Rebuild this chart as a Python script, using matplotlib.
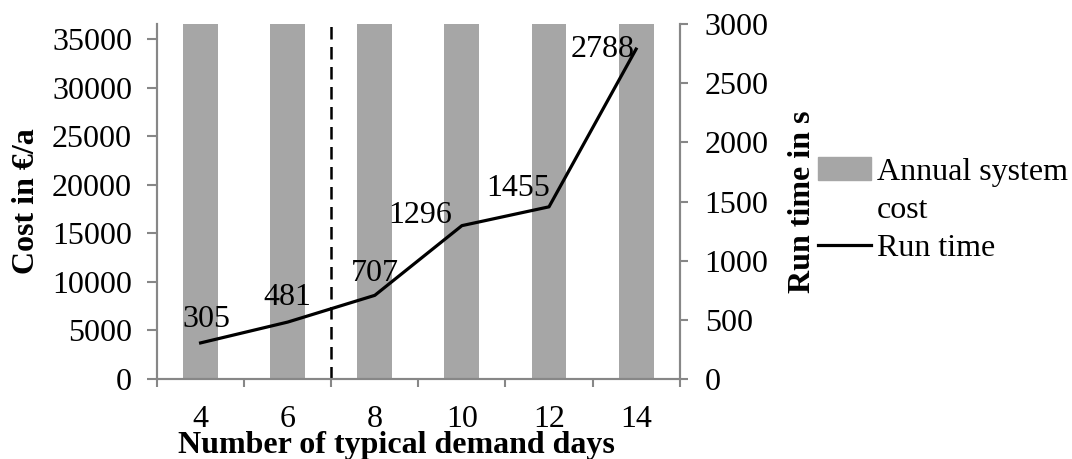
import matplotlib
matplotlib.use("Agg")
import matplotlib.pyplot as plt
from matplotlib.patches import Patch
from matplotlib.lines import Line2D
import numpy as np

# data
days = [4, 6, 8, 10, 12, 14]
cost = [36600, 36550, 36550, 36500, 36550, 36550]   # bars run off the top of the axis
runtime = [305, 481, 707, 1296, 1455, 2788]
split_after = 1.5  # dashed line between 6 and 8 days

plt.rcParams["font.family"] = ["Liberation Serif", "DejaVu Serif"]
plt.rcParams["font.size"] = 23
grey = "#878787"

fig = plt.figure(figsize=(10.72, 4.59), dpi=100)
ax = fig.add_axes([0.1465, 0.1743, 0.4875, 0.7734])
ax2 = ax.twinx()

x = np.arange(len(days))
ax.bar(x, cost, width=0.4, color="#a6a6a6", zorder=1)
ax.set_ylim(0, 36545)
ax.set_xlim(-0.5, 5.5)
ax.axvline(split_after, color="black", lw=1.8, ls=(0, (5, 3)), zorder=2)

ax2.plot(x, runtime, color="black", lw=2.3, zorder=3)
ax2.set_ylim(0, 3000)

# Beschriftungen der Laufzeit
offsets = [(4, 17), (0, 18), (0, 16), (-30, 7), (-22, 13), (-24, 0)]
for xi, v, off in zip(x, runtime, offsets):
    ax2.annotate(str(v), (xi, v), xytext=off, textcoords="offset points",
                 ha="center", va="center", fontsize=23)

# achsen
ax.set_yticks(np.arange(0, 35001, 5000))
ax2.set_yticks(np.arange(0, 3001, 500))
ax.set_xticks(x)
ax.set_xticklabels([str(d) for d in days])
ax.set_xticks(np.arange(-0.5, 5.6, 1), minor=True)
ax.tick_params(axis="x", which="major", length=0, pad=19)
ax.tick_params(axis="x", which="minor", length=5.5, width=1.5, color=grey)
ax.tick_params(axis="y", length=7, width=1.5, color=grey, pad=11)
ax2.tick_params(axis="y", length=6, width=1.5, color=grey, pad=12)

for a in (ax, ax2):
    a.spines["top"].set_visible(False)
    for s in ("left", "right", "bottom"):
        a.spines[s].set_color(grey)
        a.spines[s].set_linewidth(1.5)

ax.set_ylabel("Cost in €/a", fontweight="bold", labelpad=8)
ax2.set_ylabel("Run time in s", fontweight="bold", labelpad=14)
ax.set_xlabel("Number of typical demand days", fontweight="bold", va="top")
ax.xaxis.set_label_coords(0.459, -0.147)

handles = [Patch(color="#a6a6a6"), Patch(alpha=0), Line2D([], [], color="black", lw=2.3)]
labels = ["Annual system", "cost", "Run time"]
fig.legend(handles, labels, loc="upper left", bbox_to_anchor=(0.751, 0.685),
           frameon=False, handlelength=1.65, handletextpad=0.2, labelspacing=0.28,
           borderaxespad=0, fontsize=23)

fig.savefig("out.png", dpi=100)
